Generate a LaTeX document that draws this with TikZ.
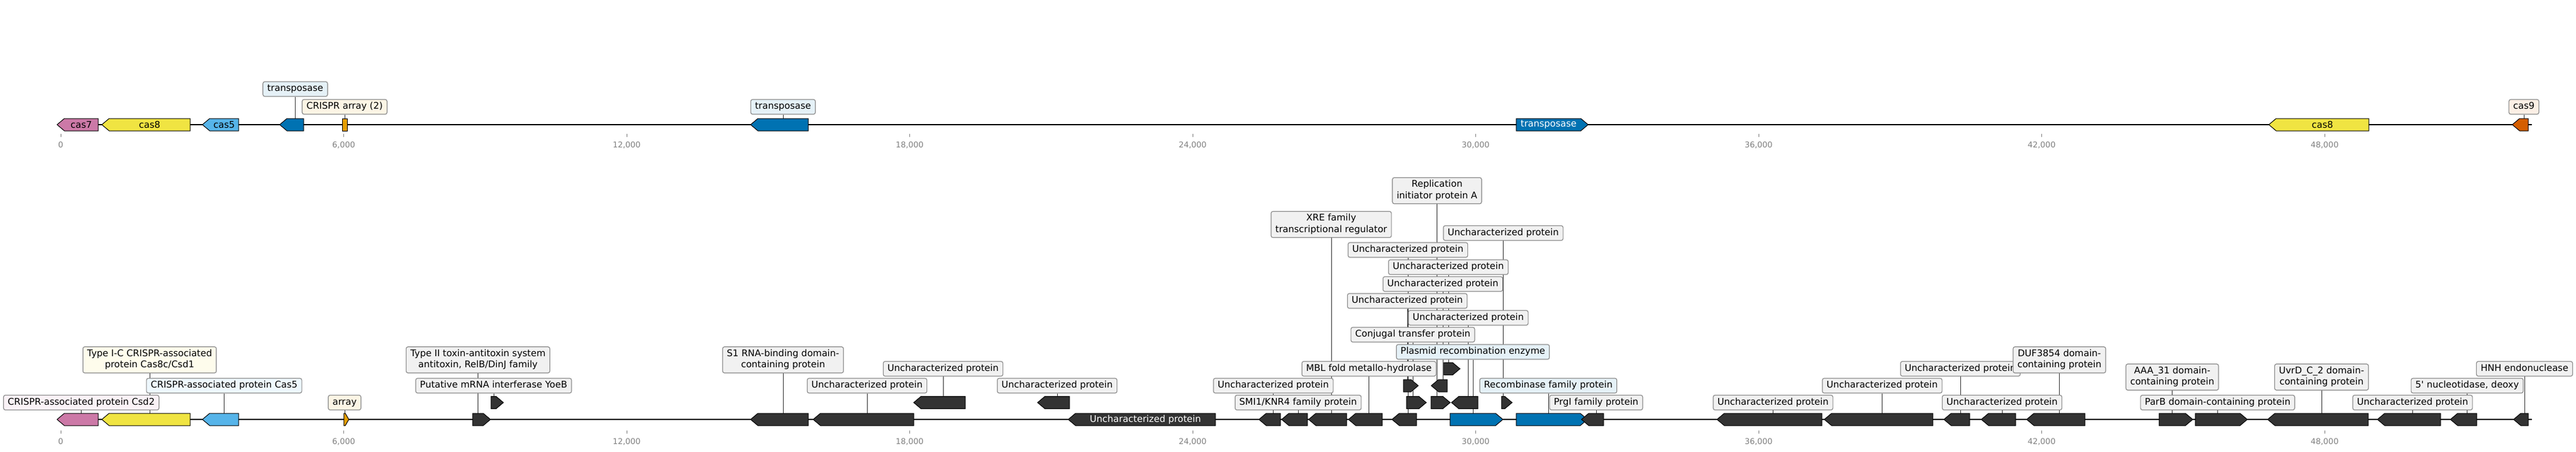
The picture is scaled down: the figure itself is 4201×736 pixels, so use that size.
\documentclass[tikz,border=0pt]{standalone}
\usepackage{fontspec}
\setmainfont{DejaVu Sans}
\usetikzlibrary{shapes.symbols, backgrounds}

\definecolor{cas7col}{HTML}{CC79A7}
\definecolor{cas8col}{HTML}{F0E442}
\definecolor{cas5col}{HTML}{56B4E9}
\definecolor{tpcol}{HTML}{0072B2}
\definecolor{arrcol}{HTML}{E69F00}
\definecolor{cas9col}{HTML}{D55E00}
\definecolor{othcol}{HTML}{333333}
\definecolor{labedge}{HTML}{8C8C8C}
\definecolor{tkgray}{HTML}{808080}

\newcommand{\lbl}{\fontsize{15}{18.5}\selectfont}
\newcommand{\tkf}{\fontsize{13}{15}\selectfont}

\tikzset{
  gene/.style={signal, signal from=nowhere, signal pointer angle=80, draw=black, line width=1pt,
    fill=othcol, minimum height=20pt, inner sep=0pt, font=\lbl},
  fwd/.style={gene, signal to=east},
  rev/.style={gene, signal to=west},
  crarr/.style={rectangle, draw=black, line width=1pt, fill=arrcol, minimum height=20pt, inner sep=0pt},
  lab/.style={rectangle, draw=labedge, line width=1.2pt, rounded corners=3pt, fill=othcol!7,
    inner xsep=7pt, inner ysep=4.5pt, text height=11pt, text depth=4pt, align=center, font=\lbl},
  labtwo/.style={lab, text height=29.5pt},
  conn/.style={line width=0.8pt, black!80},
  backbone/.style={line width=2.5pt, black},
  ticklab/.style={anchor=north, inner sep=0pt, text height=9.5pt, text depth=3pt, text=tkgray, font=\tkf},
  tick/.style={line width=0.8pt, tkgray},
}

\begin{document}
\begin{tikzpicture}[x=1pt, y=-1pt]
  \useasboundingbox (0,0) rectangle (4201,736);
  \coordinate (ts) at (99,203);
  \coordinate (te) at (4129,203);
  \coordinate (bs) at (99,683);
  \coordinate (be) at (4129,683);

  % top track
  \node[rev, fill=cas7col, minimum width=67pt] (tcas7) at (132.5,203) {cas7};
  \node[rev, fill=cas8col, minimum width=144pt] (tcas8) at (244,203) {cas8};
  \node[rev, fill=cas5col, minimum width=59pt] (tcas5) at (365.5,203) {cas5};
  \node[rev, fill=tpcol, minimum width=39pt] (ttpa) at (481.5,203) {};
  \node[crarr, minimum width=8pt] (tarr) at (562,203) {};
  \node[rev, fill=tpcol, minimum width=94pt] (ttpb) at (1277,203) {};
  \node[fwd, fill=tpcol, text=white, minimum width=117pt] (ttpc) at (2525.5,203) {transposase};
  \node[rev, fill=cas8col, minimum width=163pt] (tcas8b) at (3787.5,203) {cas8};
  \node[rev, fill=cas9col, minimum width=26pt] (tcas9) at (4116,203) {};

  \node[lab, fill=tpcol!10] (lttpa) at (481.5,145) {transposase};
  \node[lab, fill=arrcol!10] (ltarr) at (562,174) {CRISPR array (2)};
  \node[lab, fill=tpcol!10] (lttpb) at (1277,174) {transposase};
  \node[lab, fill=cas9col!10] (ltcas9) at (4116,174) {cas9};

  % bottom track
  \node[rev, fill=cas7col, minimum width=67pt] (csd2) at (132.5,683) {};
  \node[rev, fill=cas8col, minimum width=144pt] (cas8c) at (244,683) {};
  \node[rev, fill=cas5col, minimum width=59pt] (cas5) at (365.5,683) {};
  \node[fwd, fill=arrcol, signal pointer angle=120, minimum width=8pt] (arr) at (562,683) {};
  \node[fwd, minimum width=29pt] (relb) at (779.5,683) {};
  \node[fwd, minimum width=20pt] (yoeb) at (805,655.5) {};
  \node[rev, minimum width=94pt] (sone) at (1277,683) {};
  \node[rev, minimum width=164pt] (ua) at (1414,683) {};
  \node[rev, minimum width=84pt] (ub) at (1538,655.5) {};
  \node[rev, minimum width=52pt] (uc) at (1724,655.5) {};
  \node[rev, text=white, minimum width=240pt] (big) at (1868,683) {Uncharacterized protein};
  \node[rev, minimum width=35pt] (ud) at (2076.5,683) {};
  \node[rev, minimum width=42pt] (smi) at (2117,683) {};
  \node[rev, minimum width=62pt] (xre) at (2171,683) {};
  \node[rev, minimum width=55pt] (mbl) at (2232.5,683) {};
  \node[rev, minimum width=40pt] (ue) at (2296,683) {};
  \node[fwd, minimum width=24pt] (uf) at (2295,628) {};
  \node[fwd, minimum width=32pt] (conj) at (2304,655.5) {};
  \node[fwd, minimum width=31pt] (rep) at (2343.5,655.5) {};
  \node[rev, minimum width=26pt] (ug) at (2353,628) {};
  \node[fwd, minimum width=26pt] (uh) at (2362,600.5) {};
  \node[rev, minimum width=43pt] (ui) at (2394.5,655.5) {};
  \node[fwd, minimum width=17pt] (uj) at (2451.5,655.5) {};
  \node[fwd, fill=tpcol, minimum width=86pt] (pre) at (2402,683) {};
  \node[fwd, fill=tpcol, minimum width=116pt] (rec) at (2525,683) {};
  \node[rev, minimum width=36pt] (prg) at (2603,683) {};
  \node[rev, minimum width=171pt] (uk) at (2891.5,683) {};
  \node[rev, minimum width=177pt] (ul) at (3069.5,683) {};
  \node[rev, minimum width=42pt] (um) at (3197,683) {};
  \node[rev, minimum width=56pt] (un) at (3265,683) {};
  \node[rev, minimum width=95pt] (duf) at (3358.5,683) {};
  \node[fwd, minimum width=55pt] (aaa) at (3542.5,683) {};
  \node[fwd, minimum width=85pt] (parb) at (3616.5,683) {};
  \node[rev, minimum width=164pt] (uvrd) at (3786,683) {};
  \node[rev, minimum width=103pt] (uo) at (3934.5,683) {};
  \node[rev, minimum width=43pt] (nuc) at (4023.5,683) {};
  \node[rev, minimum width=24pt] (hnh) at (4117,683) {};

  \node[lab, fill=cas7col!10] (lcsd2) at (132.5,655.5) {CRISPR-associated protein Csd2};
  \node[labtwo, fill=cas8col!10] (lcas8c) at (244,586) {Type I-C CRISPR-associated\\protein Cas8c/Csd1};
  \node[lab, fill=cas5col!10] (lcas5) at (365.5,628) {CRISPR-associated protein Cas5};
  \node[lab, fill=arrcol!10] (larr) at (562,655.5) {array};
  \node[labtwo] (lrelb) at (779.5,586) {Type II toxin-antitoxin system\\antitoxin, RelB/DinJ family};
  \node[lab] (lyoeb) at (805,628) {Putative mRNA interferase YoeB};
  \node[labtwo] (lsone) at (1277,586) {S1 RNA-binding domain-\\containing protein};
  \node[lab] (lua) at (1414,628) {Uncharacterized protein};
  \node[lab] (lub) at (1538,600.5) {Uncharacterized protein};
  \node[lab] (luc) at (1724,628) {Uncharacterized protein};
  \node[lab] (lud) at (2076.5,628) {Uncharacterized protein};
  \node[lab] (lsmi) at (2117,655.5) {SMI1/KNR4 family protein};
  \node[labtwo] (lxre) at (2171,365.5) {XRE family\\transcriptional regulator};
  \node[lab] (lmbl) at (2232.5,600.5) {MBL fold metallo-hydrolase};
  \node[lab] (lue) at (2296,407) {Uncharacterized protein};
  \node[lab] (luf) at (2295,490) {Uncharacterized protein};
  \node[lab] (lconj) at (2304,545) {Conjugal transfer protein};
  \node[labtwo] (lrep) at (2343.5,310.5) {Replication\\initiator protein A};
  \node[lab] (lug) at (2353,462.5) {Uncharacterized protein};
  \node[lab] (luh) at (2362,435) {Uncharacterized protein};
  \node[lab] (lui) at (2394.5,517.5) {Uncharacterized protein};
  \node[lab] (luj) at (2451.5,379.5) {Uncharacterized protein};
  \node[lab, fill=tpcol!10] (lpre) at (2402,573) {Plasmid recombination enzyme};
  \node[lab, fill=tpcol!10] (lrec) at (2525,628) {Recombinase family protein};
  \node[lab] (lprg) at (2603,655.5) {PrgI family protein};
  \node[lab] (luk) at (2891.5,655.5) {Uncharacterized protein};
  \node[lab] (lul) at (3069.5,628) {Uncharacterized protein};
  \node[lab] (lum) at (3197,600.5) {Uncharacterized protein};
  \node[lab] (lun) at (3265,655.5) {Uncharacterized protein};
  \node[labtwo] (lduf) at (3358.5,586) {DUF3854 domain-\\containing protein};
  \node[labtwo] (laaa) at (3542.5,614) {AAA\_31 domain-\\containing protein};
  \node[lab] (lparb) at (3616.5,655.5) {ParB domain-containing protein};
  \node[labtwo] (luvrd) at (3786,614) {UvrD\_C\_2 domain-\\containing protein};
  \node[lab] (luo) at (3934.5,655.5) {Uncharacterized protein};
  \node[lab] (lnuc) at (4023.5,628) {5\textquotesingle{} nucleotidase, deoxy};
  \node[lab] (lhnh) at (4117,600.5) {HNH endonuclease};

  % axes
  \foreach \i/\t in {0/0,1/6{,}000,2/12{,}000,3/18{,}000,4/24{,}000,5/30{,}000,6/36{,}000,7/42{,}000,8/48{,}000}{
    \node[ticklab] (ta\i) at (99+461.5*\i,231) {\t};
    \node[ticklab] (tb\i) at (99+461.5*\i,714) {\t};
    \draw[tick] (ta\i.north) ++(0,-13) -- ++(0,5);
    \draw[tick] (tb\i.north) ++(0,-13) -- ++(0,5);
  }

  \begin{scope}[on background layer]
    \fill[white] (0,0) rectangle (4201,736);
    \draw[backbone] (ts) -- (te);
    \draw[backbone] (bs) -- (be);
    \foreach \g in {ttpa,tarr,ttpb,tcas9,csd2,cas8c,cas5,arr,relb,yoeb,sone,ua,ub,uc,ud,smi,xre,mbl,
        ue,uf,conj,rep,ug,uh,ui,uj,pre,rec,prg,uk,ul,um,un,duf,aaa,parb,uvrd,uo,nuc,hnh}
      \draw[conn] (\g.north |- l\g.south) -- (\g.north);
  \end{scope}
\end{tikzpicture}
\end{document}
